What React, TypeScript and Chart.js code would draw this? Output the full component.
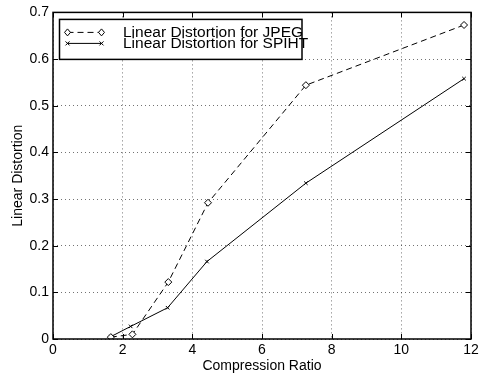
import React, { useEffect, useRef } from 'react';
import { Chart, registerables } from 'chart.js';

Chart.register(...registerables);

// ---- Data ----
const seriesLabels = ['Linear Distortion for JPEG', 'Linear Distortion for SPIHT'];
const jpegRatio = [1.66, 2.28, 3.31, 4.45, 7.26, 11.8];
const jpegDist = [0.004, 0.01, 0.122, 0.292, 0.544, 0.673];
const spihtRatio = [1.66, 2.23, 3.29, 4.42, 7.26, 11.8];
const spihtDist = [0.005, 0.027, 0.067, 0.166, 0.334, 0.558];
const xTickValues = [0, 2, 4, 6, 8, 10, 12];
const yTickValues = [0, 0.1, 0.2, 0.3, 0.4, 0.5, 0.6, 0.7];
const xTitle = 'Compression Ratio';
const yTitle = 'Linear Distortion';

const FONT = '"Liberation Sans", Arial, Helvetica, sans-serif';

function drawMarker(ctx: CanvasRenderingContext2D, style: string, x: number, y: number, r: number) {
  ctx.beginPath();
  if (style === 'rectRot') {
    ctx.moveTo(x, y - r);
    ctx.lineTo(x + r * 0.85, y);
    ctx.lineTo(x, y + r);
    ctx.lineTo(x - r * 0.85, y);
    ctx.closePath();
    ctx.fillStyle = '#fff';
    ctx.fill();
    ctx.stroke();
  } else {
    const d = r * 0.8;
    ctx.moveTo(x - d, y - d);
    ctx.lineTo(x + d, y + d);
    ctx.moveTo(x + d, y - d);
    ctx.lineTo(x - d, y + d);
    ctx.stroke();
  }
}

const framePlugin = {
  id: 'frameAndLegend',
  afterDraw(chart: any) {
    const { ctx, chartArea, scales } = chart;
    const { left, right, top, bottom } = chartArea;
    ctx.save();
    ctx.strokeStyle = '#000';
    ctx.lineWidth = 1;
    ctx.setLineDash([]);
    const tl = 5;
    ctx.beginPath();
    xTickValues.forEach((v) => {
      const px = Math.round(scales.x.getPixelForValue(v)) + 0.5;
      ctx.moveTo(px, bottom);
      ctx.lineTo(px, bottom - tl);
      ctx.moveTo(px, top);
      ctx.lineTo(px, top + tl);
    });
    yTickValues.forEach((v) => {
      const py = Math.round(scales.y.getPixelForValue(v)) + 0.5;
      ctx.moveTo(left, py);
      ctx.lineTo(left + tl, py);
      ctx.moveTo(right, py);
      ctx.lineTo(right - tl, py);
    });
    ctx.stroke();
    ctx.lineWidth = 1.5;
    ctx.strokeRect(left, top, right - left, bottom - top);

    // legend
    const bx = left + 6.5;
    const by = top + 7;
    const bw = 242.5;
    const bh = 40;
    ctx.fillStyle = '#fff';
    ctx.fillRect(bx, by, bw, bh);
    ctx.font = `15.5px ${FONT}`;
    ctx.textBaseline = 'middle';
    ctx.textAlign = 'left';
    chart.data.datasets.forEach((ds: any, i: number) => {
      const ry = by + 13 + i * 11;
      const x0 = bx + 8;
      const x1 = bx + 42;
      ctx.strokeStyle = '#000';
      ctx.lineWidth = 1;
      ctx.setLineDash(ds.borderDash || []);
      ctx.beginPath();
      ctx.moveTo(x0, ry);
      ctx.lineTo(x1, ry);
      ctx.stroke();
      ctx.setLineDash([]);
      drawMarker(ctx, ds.pointStyle, x0, ry, ds.pointStyle === 'rectRot' ? 3.5 : 2.5);
      drawMarker(ctx, ds.pointStyle, x1, ry, ds.pointStyle === 'rectRot' ? 3.5 : 2.5);
      ctx.fillStyle = '#000';
      ctx.fillText(ds.label, bx + 63.5, ry + 0.5);
    });
    ctx.lineWidth = 1.5;
    ctx.strokeStyle = '#000';
    ctx.strokeRect(bx, by, bw, bh);
    ctx.restore();
  },
};

export default function App() {
  const ref = useRef<HTMLCanvasElement | null>(null);
  useEffect(() => {
    document.body.style.margin = '0';
    const canvas = ref.current;
    if (!canvas) return;
    Chart.defaults.font.family = FONT;
    const gridColor = 'rgba(0,0,0,0.55)';
    const chart = new Chart(canvas, {
      type: 'line',
      data: {
        datasets: [
          {
            label: seriesLabels[0],
            data: jpegRatio.map((x, i) => ({ x, y: jpegDist[i] })),
            borderColor: '#000',
            borderWidth: 1,
            borderDash: [6, 4],
            pointStyle: 'rectRot',
            pointRadius: 3.5,
            pointBorderWidth: 1,
            pointBorderColor: '#000',
            pointBackgroundColor: '#fff',
            fill: false,
            tension: 0,
          } as any,
          {
            label: seriesLabels[1],
            data: spihtRatio.map((x, i) => ({ x, y: spihtDist[i] })),
            borderColor: '#000',
            borderWidth: 1,
            pointStyle: 'crossRot',
            pointRadius: 2.5,
            pointBorderWidth: 1,
            pointBorderColor: '#000',
            fill: false,
            tension: 0,
          } as any,
        ],
      },
      options: {
        responsive: false,
        animation: false,
        layout: { padding: { top: 10, right: 12, left: 0, bottom: 0 } },
        plugins: { legend: { display: false }, tooltip: { enabled: false } },
        scales: {
          x: {
            type: 'linear',
            min: 0,
            max: 12,
            afterBuildTicks: (s: any) => {
              s.ticks = xTickValues.map((v) => ({ value: v }));
            },
            ticks: { color: '#000', font: { size: 14, family: FONT }, padding: 3, maxRotation: 0, autoSkip: false, callback: (v: any) => String(v) },
            grid: { color: gridColor, lineWidth: 1, drawTicks: false } as any,
            border: { display: false, dash: [1, 3] },
            title: { display: true, text: xTitle, color: '#000', font: { size: 14, family: FONT, lineHeight: 1.2 }, padding: { top: 0, bottom: 2 } },
            afterFit: (s: any) => {
              s.height = 38;
            },
          },
          y: {
            type: 'linear',
            min: 0,
            max: 0.7,
            afterBuildTicks: (s: any) => {
              s.ticks = yTickValues.map((v) => ({ value: v }));
            },
            ticks: {
              color: '#000',
              font: { size: 14, family: FONT },
              padding: 4,
              autoSkip: false,
              callback: (v: any) => (v === 0 ? '0' : Number(v).toFixed(1)),
            },
            grid: { color: gridColor, lineWidth: 1, drawTicks: false } as any,
            border: { display: false, dash: [1, 3] },
            title: { display: true, text: yTitle, color: '#000', font: { size: 14, family: FONT, lineHeight: 1.2 }, padding: { top: 10, bottom: 0 } },
            afterFit: (s: any) => {
              s.width = 53;
            },
          },
        },
      } as any,
      plugins: [framePlugin],
    });
    return () => chart.destroy();
  }, []);
  return (
    <div style={{ position: 'fixed', left: 0, top: 0, width: 483, height: 377, background: '#fff' }}>
      <canvas ref={ref} width={483} height={377} style={{ width: 483, height: 377, display: 'block' }} />
    </div>
  );
}
